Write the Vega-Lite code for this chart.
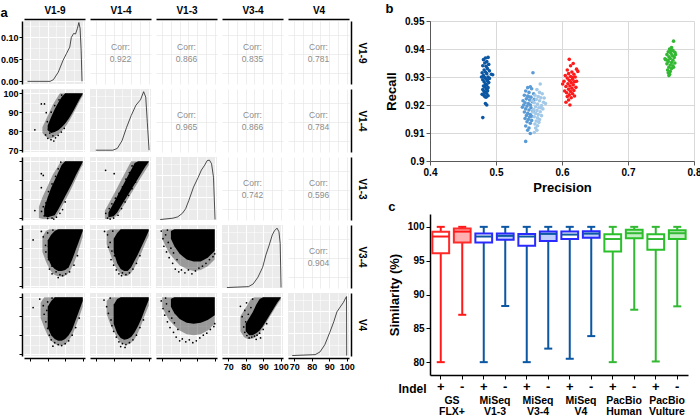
{
"$schema":"https://vega.github.io/schema/vega-lite/v6.json",
"background":"#ffffff",
"padding":{"left":0,"top":3,"right":0,"bottom":0},
"config":{"font":"Liberation Sans","view":{"stroke":null},"axis":{"labelFont":"Liberation Sans","titleFont":"Liberation Sans"},"title":{"font":"Liberation Sans","color":"#000000"}},
"datasets":{
"dens":[
{"v":"V1-9","x":68.5,"d":0},{"v":"V1-9","x":81.4,"d":0},{"v":"V1-9","x":83.3,"d":0.004},{"v":"V1-9","x":86.05,"d":0.021},{"v":"V1-9","x":88.8,"d":0.048},{"v":"V1-9","x":90.7,"d":0.063},{"v":"V1-9","x":92.6,"d":0.078},{"v":"V1-9","x":93.5,"d":0.1},{"v":"V1-9","x":94.8,"d":0.109},{"v":"V1-9","x":95.9,"d":0.108},{"v":"V1-9","x":97.0,"d":0.121},{"v":"V1-9","x":97.8,"d":0.134},{"v":"V1-9","x":98.5,"d":0.121},{"v":"V1-9","x":99.1,"d":0.071},{"v":"V1-9","x":99.6,"d":0},
{"v":"V1-4","x":69.8,"d":0.004},{"v":"V1-4","x":79.5,"d":0.004},{"v":"V1-4","x":82.1,"d":0.008},{"v":"V1-4","x":84.75,"d":0.025},{"v":"V1-4","x":87.4,"d":0.055},{"v":"V1-4","x":90.0,"d":0.081},{"v":"V1-4","x":92.7,"d":0.104},{"v":"V1-4","x":95.3,"d":0.116},{"v":"V1-4","x":97.1,"d":0.134},{"v":"V1-4","x":98.3,"d":0.122},{"v":"V1-4","x":99.2,"d":0.066},{"v":"V1-4","x":100.2,"d":0.004},
{"v":"V1-3","x":68.9,"d":0.001},{"v":"V1-3","x":76.1,"d":0.004},{"v":"V1-3","x":78.9,"d":0.007},{"v":"V1-3","x":81.6,"d":0.015},{"v":"V1-3","x":83.4,"d":0.025},{"v":"V1-3","x":85.2,"d":0.043},{"v":"V1-3","x":87.9,"d":0.073},{"v":"V1-3","x":90.6,"d":0.095},{"v":"V1-3","x":92.4,"d":0.111},{"v":"V1-3","x":94.3,"d":0.122},{"v":"V1-3","x":95.7,"d":0.132},{"v":"V1-3","x":97.0,"d":0.133},{"v":"V1-3","x":98.2,"d":0.125},{"v":"V1-3","x":99.3,"d":0.095},{"v":"V1-3","x":100.2,"d":0.001},
{"v":"V3-4","x":69.3,"d":0.001},{"v":"V3-4","x":81.6,"d":0.003},{"v":"V3-4","x":84.3,"d":0.009},{"v":"V3-4","x":87.0,"d":0.024},{"v":"V3-4","x":89.7,"d":0.046},{"v":"V3-4","x":91.5,"d":0.073},{"v":"V3-4","x":93.4,"d":0.095},{"v":"V3-4","x":95.2,"d":0.118},{"v":"V3-4","x":96.4,"d":0.127},{"v":"V3-4","x":97.9,"d":0.133},{"v":"V3-4","x":99.0,"d":0.125},{"v":"V3-4","x":99.7,"d":0.099},{"v":"V3-4","x":100.2,"d":0.001},
{"v":"V4","x":68.9,"d":0.001},{"v":"V4","x":82.0,"d":0.003},{"v":"V4","x":84.75,"d":0.009},{"v":"V4","x":87.5,"d":0.025},{"v":"V4","x":90.3,"d":0.052},{"v":"V4","x":92.6,"d":0.076},{"v":"V4","x":94.4,"d":0.098},{"v":"V4","x":96.3,"d":0.109},{"v":"V4","x":98.1,"d":0.119},{"v":"V4","x":99.4,"d":0.129},{"v":"V4","x":99.9,"d":0.132},{"v":"V4","x":100.0,"d":0.001}
],
"corr":[
{"r":"V1-9","c":"V1-4","corr":0.922},{"r":"V1-9","c":"V1-3","corr":0.866},{"r":"V1-9","c":"V3-4","corr":0.835},{"r":"V1-9","c":"V4","corr":0.781},
{"r":"V1-4","c":"V1-3","corr":0.965},{"r":"V1-4","c":"V3-4","corr":0.866},{"r":"V1-4","c":"V4","corr":0.784},
{"r":"V1-3","c":"V3-4","corr":0.742},{"r":"V1-3","c":"V4","corr":0.596},
{"r":"V3-4","c":"V4","corr":0.904}
],
"halo":[
{"r":"V1-4","c":"V1-9","x":77,"y":79,"y2":82},{"r":"V1-4","c":"V1-9","x":79,"y":77,"y2":86},{"r":"V1-4","c":"V1-9","x":81,"y":76,"y2":90},{"r":"V1-4","c":"V1-9","x":83,"y":76.5,"y2":94},{"r":"V1-4","c":"V1-9","x":85,"y":77.5,"y2":97},{"r":"V1-4","c":"V1-9","x":87,"y":79,"y2":100},{"r":"V1-4","c":"V1-9","x":89,"y":81,"y2":100},{"r":"V1-4","c":"V1-9","x":91,"y":83.5,"y2":100},{"r":"V1-4","c":"V1-9","x":93,"y":86.5,"y2":100},{"r":"V1-4","c":"V1-9","x":95,"y":90,"y2":100},{"r":"V1-4","c":"V1-9","x":97,"y":93.5,"y2":100},{"r":"V1-4","c":"V1-9","x":99,"y":97,"y2":100},{"r":"V1-4","c":"V1-9","x":100,"y":98.5,"y2":100},
{"r":"V1-3","c":"V1-9","x":75,"y":70,"y2":76},{"r":"V1-3","c":"V1-9","x":77,"y":69.5,"y2":81},{"r":"V1-3","c":"V1-9","x":79,"y":69.5,"y2":85},{"r":"V1-3","c":"V1-9","x":81,"y":69.5,"y2":89},{"r":"V1-3","c":"V1-9","x":83,"y":69.5,"y2":93},{"r":"V1-3","c":"V1-9","x":85,"y":71,"y2":96},{"r":"V1-3","c":"V1-9","x":87,"y":74,"y2":99},{"r":"V1-3","c":"V1-9","x":89,"y":77.5,"y2":100},{"r":"V1-3","c":"V1-9","x":91,"y":81,"y2":100},{"r":"V1-3","c":"V1-9","x":93,"y":84.5,"y2":100},{"r":"V1-3","c":"V1-9","x":95,"y":88.5,"y2":100},{"r":"V1-3","c":"V1-9","x":97,"y":92.5,"y2":100},{"r":"V1-3","c":"V1-9","x":99,"y":96.5,"y2":100},{"r":"V1-3","c":"V1-9","x":100,"y":98,"y2":100},
{"r":"V1-3","c":"V1-4","x":75,"y":69.5,"y2":74},{"r":"V1-3","c":"V1-4","x":78,"y":69.5,"y2":79},{"r":"V1-3","c":"V1-4","x":80,"y":70,"y2":82.5},{"r":"V1-3","c":"V1-4","x":82,"y":71.5,"y2":86},{"r":"V1-3","c":"V1-4","x":84,"y":74,"y2":89.5},{"r":"V1-3","c":"V1-4","x":86,"y":77,"y2":93},{"r":"V1-3","c":"V1-4","x":88,"y":80,"y2":96.5},{"r":"V1-3","c":"V1-4","x":90,"y":83,"y2":100},{"r":"V1-3","c":"V1-4","x":92,"y":86,"y2":100},{"r":"V1-3","c":"V1-4","x":94,"y":89,"y2":100},{"r":"V1-3","c":"V1-4","x":96,"y":92,"y2":100},{"r":"V1-3","c":"V1-4","x":98,"y":95,"y2":100},{"r":"V1-3","c":"V1-4","x":100,"y":98,"y2":100},
{"r":"V3-4","c":"V1-9","x":77,"y":88,"y2":96},{"r":"V3-4","c":"V1-9","x":79,"y":83,"y2":99},{"r":"V3-4","c":"V1-9","x":81,"y":79,"y2":100},{"r":"V3-4","c":"V1-9","x":83,"y":76.5,"y2":100},{"r":"V3-4","c":"V1-9","x":85,"y":75.5,"y2":100},{"r":"V3-4","c":"V1-9","x":87,"y":75,"y2":100},{"r":"V3-4","c":"V1-9","x":89,"y":75,"y2":100},{"r":"V3-4","c":"V1-9","x":91,"y":76,"y2":100},{"r":"V3-4","c":"V1-9","x":93,"y":78.5,"y2":100},{"r":"V3-4","c":"V1-9","x":95,"y":82,"y2":100},{"r":"V3-4","c":"V1-9","x":97,"y":87,"y2":100},{"r":"V3-4","c":"V1-9","x":99,"y":93,"y2":100},{"r":"V3-4","c":"V1-9","x":100,"y":96,"y2":100},
{"r":"V3-4","c":"V1-4","x":76,"y":92,"y2":99},{"r":"V3-4","c":"V1-4","x":78,"y":87,"y2":100},{"r":"V3-4","c":"V1-4","x":80,"y":82,"y2":100},{"r":"V3-4","c":"V1-4","x":82,"y":78.5,"y2":100},{"r":"V3-4","c":"V1-4","x":84,"y":76.5,"y2":100},{"r":"V3-4","c":"V1-4","x":86,"y":75.5,"y2":100},{"r":"V3-4","c":"V1-4","x":88,"y":75.5,"y2":100},{"r":"V3-4","c":"V1-4","x":90,"y":77,"y2":100},{"r":"V3-4","c":"V1-4","x":92,"y":80,"y2":100},{"r":"V3-4","c":"V1-4","x":94,"y":84,"y2":100},{"r":"V3-4","c":"V1-4","x":96,"y":88,"y2":100},{"r":"V3-4","c":"V1-4","x":98,"y":92.5,"y2":100},{"r":"V3-4","c":"V1-4","x":100,"y":96.5,"y2":100},
{"r":"V3-4","c":"V1-3","x":70,"y":95,"y2":100},{"r":"V3-4","c":"V1-3","x":72,"y":91,"y2":100},{"r":"V3-4","c":"V1-3","x":74,"y":87.5,"y2":100},{"r":"V3-4","c":"V1-3","x":77,"y":84,"y2":100},{"r":"V3-4","c":"V1-3","x":80,"y":81,"y2":100},{"r":"V3-4","c":"V1-3","x":84,"y":79,"y2":100},{"r":"V3-4","c":"V1-3","x":88,"y":78,"y2":100},{"r":"V3-4","c":"V1-3","x":92,"y":78.5,"y2":100},{"r":"V3-4","c":"V1-3","x":96,"y":80.5,"y2":100},{"r":"V3-4","c":"V1-3","x":100,"y":84,"y2":100},
{"r":"V4","c":"V1-9","x":76,"y":89,"y2":97},{"r":"V4","c":"V1-9","x":78,"y":84,"y2":100},{"r":"V4","c":"V1-9","x":80,"y":80,"y2":100},{"r":"V4","c":"V1-9","x":82,"y":77,"y2":100},{"r":"V4","c":"V1-9","x":84,"y":75.5,"y2":100},{"r":"V4","c":"V1-9","x":86,"y":74.5,"y2":100},{"r":"V4","c":"V1-9","x":88,"y":74.5,"y2":100},{"r":"V4","c":"V1-9","x":90,"y":75,"y2":100},{"r":"V4","c":"V1-9","x":92,"y":77,"y2":100},{"r":"V4","c":"V1-9","x":94,"y":80,"y2":100},{"r":"V4","c":"V1-9","x":96,"y":84.5,"y2":100},{"r":"V4","c":"V1-9","x":98,"y":89.5,"y2":100},{"r":"V4","c":"V1-9","x":100,"y":95,"y2":100},
{"r":"V4","c":"V1-4","x":76,"y":91,"y2":98},{"r":"V4","c":"V1-4","x":78,"y":86,"y2":100},{"r":"V4","c":"V1-4","x":80,"y":82,"y2":100},{"r":"V4","c":"V1-4","x":82,"y":78.5,"y2":100},{"r":"V4","c":"V1-4","x":84,"y":76,"y2":100},{"r":"V4","c":"V1-4","x":86,"y":75,"y2":100},{"r":"V4","c":"V1-4","x":88,"y":75,"y2":100},{"r":"V4","c":"V1-4","x":90,"y":76,"y2":100},{"r":"V4","c":"V1-4","x":92,"y":78,"y2":100},{"r":"V4","c":"V1-4","x":94,"y":81.5,"y2":100},{"r":"V4","c":"V1-4","x":96,"y":86,"y2":100},{"r":"V4","c":"V1-4","x":98,"y":91,"y2":100},{"r":"V4","c":"V1-4","x":100,"y":95.5,"y2":100},
{"r":"V4","c":"V1-3","x":70,"y":95,"y2":100},{"r":"V4","c":"V1-3","x":72,"y":91,"y2":100},{"r":"V4","c":"V1-3","x":74,"y":88,"y2":100},{"r":"V4","c":"V1-3","x":77,"y":85,"y2":100},{"r":"V4","c":"V1-3","x":80,"y":82.5,"y2":100},{"r":"V4","c":"V1-3","x":84,"y":80.5,"y2":100},{"r":"V4","c":"V1-3","x":88,"y":80,"y2":100},{"r":"V4","c":"V1-3","x":92,"y":80.5,"y2":100},{"r":"V4","c":"V1-3","x":96,"y":82.5,"y2":100},{"r":"V4","c":"V1-3","x":100,"y":86,"y2":100},
{"r":"V4","c":"V3-4","x":77,"y":82,"y2":90},{"r":"V4","c":"V3-4","x":79,"y":79,"y2":93},{"r":"V4","c":"V3-4","x":81,"y":78,"y2":96},{"r":"V4","c":"V3-4","x":83,"y":78,"y2":99},{"r":"V4","c":"V3-4","x":85,"y":78.5,"y2":100},{"r":"V4","c":"V3-4","x":87,"y":80,"y2":100},{"r":"V4","c":"V3-4","x":89,"y":82.5,"y2":100},{"r":"V4","c":"V3-4","x":91,"y":85.5,"y2":100},{"r":"V4","c":"V3-4","x":93,"y":88.5,"y2":100},{"r":"V4","c":"V3-4","x":95,"y":91.5,"y2":100},{"r":"V4","c":"V3-4","x":97,"y":94.5,"y2":100},{"r":"V4","c":"V3-4","x":99,"y":97.5,"y2":100},{"r":"V4","c":"V3-4","x":100,"y":98.5,"y2":100}
],
"core":[
{"r":"V1-4","c":"V1-9","x":80,"y":80.5,"y2":83},{"r":"V1-4","c":"V1-9","x":82,"y":79,"y2":87.5},{"r":"V1-4","c":"V1-9","x":84,"y":79.5,"y2":91.5},{"r":"V1-4","c":"V1-9","x":86,"y":80.5,"y2":95},{"r":"V1-4","c":"V1-9","x":88,"y":82,"y2":98},{"r":"V1-4","c":"V1-9","x":90,"y":84,"y2":100},{"r":"V1-4","c":"V1-9","x":92,"y":86.5,"y2":100},{"r":"V1-4","c":"V1-9","x":94,"y":89.5,"y2":100},{"r":"V1-4","c":"V1-9","x":96,"y":93,"y2":100},{"r":"V1-4","c":"V1-9","x":98,"y":96.5,"y2":100},{"r":"V1-4","c":"V1-9","x":100,"y":99.6,"y2":100},
{"r":"V1-3","c":"V1-9","x":78,"y":71,"y2":75},{"r":"V1-3","c":"V1-9","x":80,"y":70.5,"y2":81},{"r":"V1-3","c":"V1-9","x":82,"y":71,"y2":86},{"r":"V1-3","c":"V1-9","x":84,"y":71.5,"y2":90},{"r":"V1-3","c":"V1-9","x":86,"y":74.5,"y2":94},{"r":"V1-3","c":"V1-9","x":88,"y":78,"y2":98},{"r":"V1-3","c":"V1-9","x":90,"y":81.5,"y2":100},{"r":"V1-3","c":"V1-9","x":92,"y":85,"y2":100},{"r":"V1-3","c":"V1-9","x":94,"y":88.5,"y2":100},{"r":"V1-3","c":"V1-9","x":96,"y":92.5,"y2":100},{"r":"V1-3","c":"V1-9","x":98,"y":96,"y2":100},{"r":"V1-3","c":"V1-9","x":100,"y":99.6,"y2":100},
{"r":"V1-3","c":"V1-4","x":77,"y":70.5,"y2":73},{"r":"V1-3","c":"V1-4","x":80,"y":71,"y2":78},{"r":"V1-3","c":"V1-4","x":82,"y":73,"y2":81.5},{"r":"V1-3","c":"V1-4","x":84,"y":76,"y2":85},{"r":"V1-3","c":"V1-4","x":86,"y":79,"y2":88.5},{"r":"V1-3","c":"V1-4","x":88,"y":82,"y2":92},{"r":"V1-3","c":"V1-4","x":90,"y":85,"y2":95.5},{"r":"V1-3","c":"V1-4","x":92,"y":88,"y2":99},{"r":"V1-3","c":"V1-4","x":94,"y":91,"y2":100},{"r":"V1-3","c":"V1-4","x":96,"y":94,"y2":100},{"r":"V1-3","c":"V1-4","x":98,"y":97,"y2":100},{"r":"V1-3","c":"V1-4","x":100,"y":99.6,"y2":100},
{"r":"V3-4","c":"V1-9","x":80,"y":85,"y2":94},{"r":"V3-4","c":"V1-9","x":82,"y":81,"y2":97},{"r":"V3-4","c":"V1-9","x":84,"y":79,"y2":99},{"r":"V3-4","c":"V1-9","x":86,"y":78,"y2":100},{"r":"V3-4","c":"V1-9","x":88,"y":78,"y2":100},{"r":"V3-4","c":"V1-9","x":90,"y":78.5,"y2":100},{"r":"V3-4","c":"V1-9","x":92,"y":80,"y2":100},{"r":"V3-4","c":"V1-9","x":94,"y":84,"y2":100},{"r":"V3-4","c":"V1-9","x":96,"y":89,"y2":100},{"r":"V3-4","c":"V1-9","x":98,"y":94,"y2":100},{"r":"V3-4","c":"V1-9","x":100,"y":99,"y2":100},
{"r":"V3-4","c":"V1-4","x":80,"y":88,"y2":95},{"r":"V3-4","c":"V1-4","x":82,"y":82,"y2":98},{"r":"V3-4","c":"V1-4","x":84,"y":79,"y2":100},{"r":"V3-4","c":"V1-4","x":86,"y":78,"y2":100},{"r":"V3-4","c":"V1-4","x":88,"y":78,"y2":100},{"r":"V3-4","c":"V1-4","x":90,"y":80,"y2":100},{"r":"V3-4","c":"V1-4","x":92,"y":83.5,"y2":100},{"r":"V3-4","c":"V1-4","x":94,"y":87,"y2":100},{"r":"V3-4","c":"V1-4","x":96,"y":91,"y2":100},{"r":"V3-4","c":"V1-4","x":98,"y":95,"y2":100},{"r":"V3-4","c":"V1-4","x":100,"y":99,"y2":100},
{"r":"V3-4","c":"V1-3","x":75,"y":95,"y2":99},{"r":"V3-4","c":"V1-3","x":77,"y":91,"y2":100},{"r":"V3-4","c":"V1-3","x":80,"y":87,"y2":100},{"r":"V3-4","c":"V1-3","x":84,"y":84,"y2":100},{"r":"V3-4","c":"V1-3","x":88,"y":83,"y2":100},{"r":"V3-4","c":"V1-3","x":92,"y":83,"y2":100},{"r":"V3-4","c":"V1-3","x":96,"y":85,"y2":100},{"r":"V3-4","c":"V1-3","x":100,"y":88.5,"y2":100},
{"r":"V4","c":"V1-9","x":80,"y":84,"y2":95},{"r":"V4","c":"V1-9","x":82,"y":80,"y2":98},{"r":"V4","c":"V1-9","x":84,"y":78,"y2":100},{"r":"V4","c":"V1-9","x":86,"y":77,"y2":100},{"r":"V4","c":"V1-9","x":88,"y":77,"y2":100},{"r":"V4","c":"V1-9","x":90,"y":78,"y2":100},{"r":"V4","c":"V1-9","x":92,"y":80,"y2":100},{"r":"V4","c":"V1-9","x":94,"y":83,"y2":100},{"r":"V4","c":"V1-9","x":96,"y":88,"y2":100},{"r":"V4","c":"V1-9","x":98,"y":93,"y2":100},{"r":"V4","c":"V1-9","x":100,"y":98,"y2":100},
{"r":"V4","c":"V1-4","x":80,"y":86,"y2":96},{"r":"V4","c":"V1-4","x":82,"y":81,"y2":99},{"r":"V4","c":"V1-4","x":84,"y":78.5,"y2":100},{"r":"V4","c":"V1-4","x":86,"y":77.5,"y2":100},{"r":"V4","c":"V1-4","x":88,"y":78,"y2":100},{"r":"V4","c":"V1-4","x":90,"y":79,"y2":100},{"r":"V4","c":"V1-4","x":92,"y":81.5,"y2":100},{"r":"V4","c":"V1-4","x":94,"y":85,"y2":100},{"r":"V4","c":"V1-4","x":96,"y":89,"y2":100},{"r":"V4","c":"V1-4","x":98,"y":94,"y2":100},{"r":"V4","c":"V1-4","x":100,"y":98.5,"y2":100},
{"r":"V4","c":"V1-3","x":75,"y":95,"y2":99},{"r":"V4","c":"V1-3","x":77,"y":91.5,"y2":100},{"r":"V4","c":"V1-3","x":80,"y":88.5,"y2":100},{"r":"V4","c":"V1-3","x":84,"y":86.5,"y2":100},{"r":"V4","c":"V1-3","x":88,"y":86,"y2":100},{"r":"V4","c":"V1-3","x":92,"y":86.5,"y2":100},{"r":"V4","c":"V1-3","x":96,"y":88,"y2":100},{"r":"V4","c":"V1-3","x":100,"y":90.5,"y2":100},
{"r":"V4","c":"V3-4","x":80,"y":82,"y2":86},{"r":"V4","c":"V3-4","x":82,"y":80,"y2":89},{"r":"V4","c":"V3-4","x":84,"y":80,"y2":92},{"r":"V4","c":"V3-4","x":86,"y":81,"y2":96},{"r":"V4","c":"V3-4","x":88,"y":82.5,"y2":99},{"r":"V4","c":"V3-4","x":90,"y":85,"y2":100},{"r":"V4","c":"V3-4","x":92,"y":88,"y2":100},{"r":"V4","c":"V3-4","x":94,"y":91,"y2":100},{"r":"V4","c":"V3-4","x":96,"y":94,"y2":100},{"r":"V4","c":"V3-4","x":98,"y":97,"y2":100},{"r":"V4","c":"V3-4","x":100,"y":99.6,"y2":100}
],
"pts":[
{"r":"V1-4","c":"V1-9","x":76.4,"y":94.3},{"r":"V1-4","c":"V1-9","x":78.2,"y":94.3},{"r":"V1-4","c":"V1-9","x":79.2,"y":89.7},{"r":"V1-4","c":"V1-9","x":72.7,"y":80.7},{"r":"V1-4","c":"V1-9","x":78.8,"y":78},{"r":"V1-4","c":"V1-9","x":80.1,"y":76.2},{"r":"V1-4","c":"V1-9","x":81.9,"y":75.5},{"r":"V1-4","c":"V1-9","x":83,"y":77.5},{"r":"V1-4","c":"V1-9","x":84.5,"y":76.5},{"r":"V1-4","c":"V1-9","x":86,"y":77.8},{"r":"V1-4","c":"V1-9","x":80.5,"y":81},{"r":"V1-4","c":"V1-9","x":79.8,"y":85},{"r":"V1-4","c":"V1-9","x":82,"y":90},{"r":"V1-4","c":"V1-9","x":84,"y":93.5},{"r":"V1-4","c":"V1-9","x":86.5,"y":96.5},{"r":"V1-4","c":"V1-9","x":88,"y":99},{"r":"V1-4","c":"V1-9","x":81.2,"y":79},{"r":"V1-4","c":"V1-9","x":87.8,"y":79.5},{"r":"V1-4","c":"V1-9","x":89.5,"y":81.5},{"r":"V1-4","c":"V1-9","x":83.5,"y":74.8},
{"r":"V1-3","c":"V1-9","x":76.4,"y":93.4},{"r":"V1-3","c":"V1-9","x":77.5,"y":92.5},{"r":"V1-3","c":"V1-9","x":76.4,"y":86},{"r":"V1-3","c":"V1-9","x":72.7,"y":74},{"r":"V1-3","c":"V1-9","x":78,"y":71.2},{"r":"V1-3","c":"V1-9","x":76.5,"y":73.5},{"r":"V1-3","c":"V1-9","x":80,"y":69.8},{"r":"V1-3","c":"V1-9","x":82.5,"y":70},{"r":"V1-3","c":"V1-9","x":85,"y":70.5},{"r":"V1-3","c":"V1-9","x":87,"y":72.5},{"r":"V1-3","c":"V1-9","x":79,"y":78},{"r":"V1-3","c":"V1-9","x":80.5,"y":84},{"r":"V1-3","c":"V1-9","x":82.5,"y":88},{"r":"V1-3","c":"V1-9","x":84.5,"y":92},{"r":"V1-3","c":"V1-9","x":86,"y":96},{"r":"V1-3","c":"V1-9","x":87.5,"y":99.5},{"r":"V1-3","c":"V1-9","x":88.5,"y":74.5},{"r":"V1-3","c":"V1-9","x":90,"y":78.5},{"r":"V1-3","c":"V1-9","x":77.5,"y":76},{"r":"V1-3","c":"V1-9","x":83.5,"y":69.5},
{"r":"V1-3","c":"V1-4","x":75.4,"y":95.2},{"r":"V1-3","c":"V1-4","x":80.3,"y":93.4},{"r":"V1-3","c":"V1-4","x":76.5,"y":70},{"r":"V1-3","c":"V1-4","x":78,"y":69.5},{"r":"V1-3","c":"V1-4","x":80,"y":70},{"r":"V1-3","c":"V1-4","x":82.5,"y":71.5},{"r":"V1-3","c":"V1-4","x":75.5,"y":72.5},{"r":"V1-3","c":"V1-4","x":77.5,"y":75},{"r":"V1-3","c":"V1-4","x":79,"y":77.5},{"r":"V1-3","c":"V1-4","x":81,"y":80.5},{"r":"V1-3","c":"V1-4","x":83,"y":83},{"r":"V1-3","c":"V1-4","x":85,"y":86.5},{"r":"V1-3","c":"V1-4","x":87,"y":90.5},{"r":"V1-3","c":"V1-4","x":89,"y":94},{"r":"V1-3","c":"V1-4","x":90.5,"y":97.5},{"r":"V1-3","c":"V1-4","x":84.5,"y":75},{"r":"V1-3","c":"V1-4","x":86.5,"y":78.5},{"r":"V1-3","c":"V1-4","x":88.5,"y":82},{"r":"V1-3","c":"V1-4","x":90.5,"y":85.5},{"r":"V1-3","c":"V1-4","x":92.5,"y":89},
{"r":"V3-4","c":"V1-9","x":71.7,"y":94.3},{"r":"V3-4","c":"V1-9","x":76.4,"y":98.8},{"r":"V3-4","c":"V1-9","x":78.8,"y":91.5},{"r":"V3-4","c":"V1-9","x":77.5,"y":96},{"r":"V3-4","c":"V1-9","x":79,"y":88},{"r":"V3-4","c":"V1-9","x":80.5,"y":84},{"r":"V3-4","c":"V1-9","x":81,"y":79},{"r":"V3-4","c":"V1-9","x":82.5,"y":80.5},{"r":"V3-4","c":"V1-9","x":84.8,"y":77.5},{"r":"V3-4","c":"V1-9","x":87,"y":76},{"r":"V3-4","c":"V1-9","x":90.3,"y":76.5},{"r":"V3-4","c":"V1-9","x":92.5,"y":77.5},{"r":"V3-4","c":"V1-9","x":88.5,"y":75.5},{"r":"V3-4","c":"V1-9","x":86,"y":74.5},{"r":"V3-4","c":"V1-9","x":95,"y":81},{"r":"V3-4","c":"V1-9","x":97,"y":86},{"r":"V3-4","c":"V1-9","x":83,"y":99.5},{"r":"V3-4","c":"V1-9","x":80,"y":98},{"r":"V3-4","c":"V1-9","x":82.5,"y":76.5},{"r":"V3-4","c":"V1-9","x":80.5,"y":91},
{"r":"V3-4","c":"V1-4","x":74.8,"y":98.8},{"r":"V3-4","c":"V1-4","x":76.5,"y":97},{"r":"V3-4","c":"V1-4","x":78,"y":93},{"r":"V3-4","c":"V1-4","x":79,"y":88.5},{"r":"V3-4","c":"V1-4","x":78.5,"y":84},{"r":"V3-4","c":"V1-4","x":80,"y":81},{"r":"V3-4","c":"V1-4","x":81.5,"y":78.5},{"r":"V3-4","c":"V1-4","x":83,"y":76.5},{"r":"V3-4","c":"V1-4","x":85,"y":77},{"r":"V3-4","c":"V1-4","x":87,"y":76},{"r":"V3-4","c":"V1-4","x":89,"y":77},{"r":"V3-4","c":"V1-4","x":91,"y":79},{"r":"V3-4","c":"V1-4","x":93,"y":82},{"r":"V3-4","c":"V1-4","x":95,"y":86},{"r":"V3-4","c":"V1-4","x":79.5,"y":99},{"r":"V3-4","c":"V1-4","x":81,"y":95},{"r":"V3-4","c":"V1-4","x":82,"y":91.5},{"r":"V3-4","c":"V1-4","x":84.5,"y":75.5},{"r":"V3-4","c":"V1-4","x":77,"y":90.5},{"r":"V3-4","c":"V1-4","x":80.5,"y":86},
{"r":"V3-4","c":"V1-3","x":69.5,"y":99},{"r":"V3-4","c":"V1-3","x":70.5,"y":95},{"r":"V3-4","c":"V1-3","x":71,"y":91},{"r":"V3-4","c":"V1-3","x":72,"y":97},{"r":"V3-4","c":"V1-3","x":72.5,"y":88},{"r":"V3-4","c":"V1-3","x":73.5,"y":93},{"r":"V3-4","c":"V1-3","x":74,"y":85},{"r":"V3-4","c":"V1-3","x":75,"y":90},{"r":"V3-4","c":"V1-3","x":76,"y":82},{"r":"V3-4","c":"V1-3","x":76.5,"y":87.5},{"r":"V3-4","c":"V1-3","x":77.5,"y":79},{"r":"V3-4","c":"V1-3","x":78.5,"y":84},{"r":"V3-4","c":"V1-3","x":79.5,"y":77.5},{"r":"V3-4","c":"V1-3","x":81,"y":78.5},{"r":"V3-4","c":"V1-3","x":83,"y":77},{"r":"V3-4","c":"V1-3","x":85,"y":78.5},{"r":"V3-4","c":"V1-3","x":87,"y":76.5},{"r":"V3-4","c":"V1-3","x":89,"y":78},{"r":"V3-4","c":"V1-3","x":91,"y":79.5},{"r":"V3-4","c":"V1-3","x":93,"y":80.5},{"r":"V3-4","c":"V1-3","x":95,"y":82},{"r":"V3-4","c":"V1-3","x":97,"y":84},{"r":"V3-4","c":"V1-3","x":99,"y":85.5},{"r":"V3-4","c":"V1-3","x":100,"y":87},{"r":"V3-4","c":"V1-3","x":73,"y":99.5},{"r":"V3-4","c":"V1-3","x":75.5,"y":98.5},
{"r":"V4","c":"V1-9","x":71.7,"y":94.5},{"r":"V4","c":"V1-9","x":75.5,"y":99},{"r":"V4","c":"V1-9","x":77.5,"y":95.5},{"r":"V4","c":"V1-9","x":78,"y":91},{"r":"V4","c":"V1-9","x":79,"y":87},{"r":"V4","c":"V1-9","x":80,"y":83.5},{"r":"V4","c":"V1-9","x":81,"y":80},{"r":"V4","c":"V1-9","x":82,"y":77.5},{"r":"V4","c":"V1-9","x":84,"y":76},{"r":"V4","c":"V1-9","x":86,"y":75},{"r":"V4","c":"V1-9","x":88,"y":74.5},{"r":"V4","c":"V1-9","x":90,"y":75.5},{"r":"V4","c":"V1-9","x":92,"y":77},{"r":"V4","c":"V1-9","x":94,"y":80},{"r":"V4","c":"V1-9","x":96,"y":84},{"r":"V4","c":"V1-9","x":98,"y":89},{"r":"V4","c":"V1-9","x":83,"y":74.2},{"r":"V4","c":"V1-9","x":80,"y":97.5},{"r":"V4","c":"V1-9","x":82.5,"y":99.5},{"r":"V4","c":"V1-9","x":79.5,"y":93},
{"r":"V4","c":"V1-4","x":74.5,"y":98.5},{"r":"V4","c":"V1-4","x":76,"y":95},{"r":"V4","c":"V1-4","x":77,"y":91.5},{"r":"V4","c":"V1-4","x":78.5,"y":88},{"r":"V4","c":"V1-4","x":79,"y":85},{"r":"V4","c":"V1-4","x":80,"y":82},{"r":"V4","c":"V1-4","x":81.5,"y":79},{"r":"V4","c":"V1-4","x":83,"y":76.5},{"r":"V4","c":"V1-4","x":85,"y":75.5},{"r":"V4","c":"V1-4","x":87,"y":75},{"r":"V4","c":"V1-4","x":89,"y":76},{"r":"V4","c":"V1-4","x":91,"y":77.5},{"r":"V4","c":"V1-4","x":93,"y":80},{"r":"V4","c":"V1-4","x":95,"y":84},{"r":"V4","c":"V1-4","x":97,"y":88},{"r":"V4","c":"V1-4","x":78,"y":99.5},{"r":"V4","c":"V1-4","x":80.5,"y":96},{"r":"V4","c":"V1-4","x":82,"y":92.5},{"r":"V4","c":"V1-4","x":84,"y":74},{"r":"V4","c":"V1-4","x":86.5,"y":73.5},
{"r":"V4","c":"V1-3","x":69.5,"y":98},{"r":"V4","c":"V1-3","x":70.5,"y":94},{"r":"V4","c":"V1-3","x":71.5,"y":90.5},{"r":"V4","c":"V1-3","x":72.5,"y":96.5},{"r":"V4","c":"V1-3","x":73,"y":87},{"r":"V4","c":"V1-3","x":74,"y":92.5},{"r":"V4","c":"V1-3","x":74.5,"y":84},{"r":"V4","c":"V1-3","x":75.5,"y":89},{"r":"V4","c":"V1-3","x":76.5,"y":81.5},{"r":"V4","c":"V1-3","x":77,"y":86.5},{"r":"V4","c":"V1-3","x":78,"y":79},{"r":"V4","c":"V1-3","x":79,"y":83},{"r":"V4","c":"V1-3","x":80,"y":77},{"r":"V4","c":"V1-3","x":81.5,"y":78},{"r":"V4","c":"V1-3","x":83.5,"y":76.5},{"r":"V4","c":"V1-3","x":85.5,"y":77.5},{"r":"V4","c":"V1-3","x":87.5,"y":76},{"r":"V4","c":"V1-3","x":89.5,"y":77},{"r":"V4","c":"V1-3","x":91.5,"y":78.5},{"r":"V4","c":"V1-3","x":93.5,"y":80},{"r":"V4","c":"V1-3","x":95.5,"y":81},{"r":"V4","c":"V1-3","x":97.5,"y":83},{"r":"V4","c":"V1-3","x":99.5,"y":84.5},{"r":"V4","c":"V1-3","x":100,"y":86},{"r":"V4","c":"V1-3","x":72,"y":99.5},{"r":"V4","c":"V1-3","x":76,"y":99},
{"r":"V4","c":"V3-4","x":77,"y":95.2},{"r":"V4","c":"V3-4","x":78,"y":89.7},{"r":"V4","c":"V3-4","x":78.9,"y":84.3},{"r":"V4","c":"V3-4","x":79.5,"y":81.5},{"r":"V4","c":"V3-4","x":80.7,"y":79.8},{"r":"V4","c":"V3-4","x":82,"y":78.5},{"r":"V4","c":"V3-4","x":83.5,"y":79},{"r":"V4","c":"V3-4","x":85,"y":79.5},{"r":"V4","c":"V3-4","x":86.5,"y":80},{"r":"V4","c":"V3-4","x":88,"y":81},{"r":"V4","c":"V3-4","x":90,"y":83},{"r":"V4","c":"V3-4","x":92,"y":86},{"r":"V4","c":"V3-4","x":79.5,"y":93},{"r":"V4","c":"V3-4","x":80.5,"y":97},{"r":"V4","c":"V3-4","x":81.5,"y":91},{"r":"V4","c":"V3-4","x":83,"y":94.5},{"r":"V4","c":"V3-4","x":84,"y":99},{"r":"V4","c":"V3-4","x":80,"y":87},{"r":"V4","c":"V3-4","x":88.5,"y":78.5},{"r":"V4","c":"V3-4","x":86,"y":77.8}
],
"pr":[
{"platform":"MiSeq V1-3","precision":0.481,"recall":0.9362},{"platform":"MiSeq V1-3","precision":0.484,"recall":0.9368},{"platform":"MiSeq V1-3","precision":0.488,"recall":0.937},{"platform":"MiSeq V1-3","precision":0.486,"recall":0.9355},{"platform":"MiSeq V1-3","precision":0.483,"recall":0.935},{"platform":"MiSeq V1-3","precision":0.489,"recall":0.9345},{"platform":"MiSeq V1-3","precision":0.48,"recall":0.934},{"platform":"MiSeq V1-3","precision":0.485,"recall":0.9338},{"platform":"MiSeq V1-3","precision":0.487,"recall":0.933},{"platform":"MiSeq V1-3","precision":0.482,"recall":0.9325},{"platform":"MiSeq V1-3","precision":0.49,"recall":0.9322},{"platform":"MiSeq V1-3","precision":0.484,"recall":0.9318},{"platform":"MiSeq V1-3","precision":0.479,"recall":0.9315},{"platform":"MiSeq V1-3","precision":0.486,"recall":0.9312},{"platform":"MiSeq V1-3","precision":0.493,"recall":0.931},{"platform":"MiSeq V1-3","precision":0.495,"recall":0.9308},{"platform":"MiSeq V1-3","precision":0.481,"recall":0.9305},{"platform":"MiSeq V1-3","precision":0.488,"recall":0.93},{"platform":"MiSeq V1-3","precision":0.483,"recall":0.9298},{"platform":"MiSeq V1-3","precision":0.485,"recall":0.9293},{"platform":"MiSeq V1-3","precision":0.48,"recall":0.929},{"platform":"MiSeq V1-3","precision":0.487,"recall":0.9287},{"platform":"MiSeq V1-3","precision":0.482,"recall":0.9283},{"platform":"MiSeq V1-3","precision":0.489,"recall":0.928},{"platform":"MiSeq V1-3","precision":0.484,"recall":0.9276},{"platform":"MiSeq V1-3","precision":0.486,"recall":0.9272},{"platform":"MiSeq V1-3","precision":0.481,"recall":0.9268},{"platform":"MiSeq V1-3","precision":0.483,"recall":0.9265},{"platform":"MiSeq V1-3","precision":0.488,"recall":0.9262},{"platform":"MiSeq V1-3","precision":0.485,"recall":0.9258},{"platform":"MiSeq V1-3","precision":0.48,"recall":0.9255},{"platform":"MiSeq V1-3","precision":0.487,"recall":0.9252},{"platform":"MiSeq V1-3","precision":0.482,"recall":0.9248},{"platform":"MiSeq V1-3","precision":0.484,"recall":0.9245},{"platform":"MiSeq V1-3","precision":0.486,"recall":0.924},{"platform":"MiSeq V1-3","precision":0.481,"recall":0.9236},{"platform":"MiSeq V1-3","precision":0.488,"recall":0.9233},{"platform":"MiSeq V1-3","precision":0.483,"recall":0.923},{"platform":"MiSeq V1-3","precision":0.485,"recall":0.9228},{"platform":"MiSeq V1-3","precision":0.479,"recall":0.9238},{"platform":"MiSeq V1-3","precision":0.484,"recall":0.9205},{"platform":"MiSeq V1-3","precision":0.486,"recall":0.92},{"platform":"MiSeq V1-3","precision":0.48,"recall":0.9155},{"platform":"MiSeq V1-3","precision":0.49,"recall":0.9295},{"platform":"MiSeq V1-3","precision":0.478,"recall":0.93},{"platform":"MiSeq V1-3","precision":0.487,"recall":0.925},{"platform":"MiSeq V1-3","precision":0.483,"recall":0.9268},
{"platform":"MiSeq V3-4","precision":0.556,"recall":0.9315},{"platform":"MiSeq V3-4","precision":0.552,"recall":0.9265},{"platform":"MiSeq V3-4","precision":0.548,"recall":0.9262},{"platform":"MiSeq V3-4","precision":0.554,"recall":0.9258},{"platform":"MiSeq V3-4","precision":0.545,"recall":0.925},{"platform":"MiSeq V3-4","precision":0.55,"recall":0.9245},{"platform":"MiSeq V3-4","precision":0.557,"recall":0.924},{"platform":"MiSeq V3-4","precision":0.543,"recall":0.9235},{"platform":"MiSeq V3-4","precision":0.548,"recall":0.9232},{"platform":"MiSeq V3-4","precision":0.553,"recall":0.9228},{"platform":"MiSeq V3-4","precision":0.546,"recall":0.9222},{"platform":"MiSeq V3-4","precision":0.551,"recall":0.9218},{"platform":"MiSeq V3-4","precision":0.541,"recall":0.9215},{"platform":"MiSeq V3-4","precision":0.555,"recall":0.9212},{"platform":"MiSeq V3-4","precision":0.544,"recall":0.9208},{"platform":"MiSeq V3-4","precision":0.549,"recall":0.9205},{"platform":"MiSeq V3-4","precision":0.552,"recall":0.92},{"platform":"MiSeq V3-4","precision":0.547,"recall":0.9196},{"platform":"MiSeq V3-4","precision":0.54,"recall":0.9192},{"platform":"MiSeq V3-4","precision":0.553,"recall":0.919},{"platform":"MiSeq V3-4","precision":0.545,"recall":0.9186},{"platform":"MiSeq V3-4","precision":0.55,"recall":0.9182},{"platform":"MiSeq V3-4","precision":0.556,"recall":0.9178},{"platform":"MiSeq V3-4","precision":0.543,"recall":0.9175},{"platform":"MiSeq V3-4","precision":0.548,"recall":0.917},{"platform":"MiSeq V3-4","precision":0.552,"recall":0.9166},{"platform":"MiSeq V3-4","precision":0.546,"recall":0.9162},{"platform":"MiSeq V3-4","precision":0.551,"recall":0.9157},{"platform":"MiSeq V3-4","precision":0.544,"recall":0.9152},{"platform":"MiSeq V3-4","precision":0.549,"recall":0.9148},{"platform":"MiSeq V3-4","precision":0.554,"recall":0.9145},{"platform":"MiSeq V3-4","precision":0.547,"recall":0.914},{"platform":"MiSeq V3-4","precision":0.552,"recall":0.9135},{"platform":"MiSeq V3-4","precision":0.545,"recall":0.9125},{"platform":"MiSeq V3-4","precision":0.55,"recall":0.9118},{"platform":"MiSeq V3-4","precision":0.548,"recall":0.911},{"platform":"MiSeq V3-4","precision":0.552,"recall":0.9098},{"platform":"MiSeq V3-4","precision":0.545,"recall":0.907},{"platform":"MiSeq V3-4","precision":0.542,"recall":0.92},{"platform":"MiSeq V3-4","precision":0.558,"recall":0.922},{"platform":"MiSeq V3-4","precision":0.554,"recall":0.916},{"platform":"MiSeq V3-4","precision":0.549,"recall":0.923},
{"platform":"MiSeq V4","precision":0.567,"recall":0.9275},{"platform":"MiSeq V4","precision":0.562,"recall":0.9255},{"platform":"MiSeq V4","precision":0.566,"recall":0.9245},{"platform":"MiSeq V4","precision":0.57,"recall":0.924},{"platform":"MiSeq V4","precision":0.559,"recall":0.9235},{"platform":"MiSeq V4","precision":0.564,"recall":0.923},{"platform":"MiSeq V4","precision":0.568,"recall":0.9226},{"platform":"MiSeq V4","precision":0.561,"recall":0.922},{"platform":"MiSeq V4","precision":0.566,"recall":0.9215},{"platform":"MiSeq V4","precision":0.572,"recall":0.921},{"platform":"MiSeq V4","precision":0.575,"recall":0.9205},{"platform":"MiSeq V4","precision":0.558,"recall":0.9208},{"platform":"MiSeq V4","precision":0.563,"recall":0.9203},{"platform":"MiSeq V4","precision":0.569,"recall":0.9198},{"platform":"MiSeq V4","precision":0.56,"recall":0.9194},{"platform":"MiSeq V4","precision":0.565,"recall":0.919},{"platform":"MiSeq V4","precision":0.571,"recall":0.9186},{"platform":"MiSeq V4","precision":0.557,"recall":0.9184},{"platform":"MiSeq V4","precision":0.562,"recall":0.918},{"platform":"MiSeq V4","precision":0.567,"recall":0.9176},{"platform":"MiSeq V4","precision":0.56,"recall":0.917},{"platform":"MiSeq V4","precision":0.564,"recall":0.9166},{"platform":"MiSeq V4","precision":0.569,"recall":0.9162},{"platform":"MiSeq V4","precision":0.558,"recall":0.9158},{"platform":"MiSeq V4","precision":0.563,"recall":0.9154},{"platform":"MiSeq V4","precision":0.566,"recall":0.9148},{"platform":"MiSeq V4","precision":0.561,"recall":0.9143},{"platform":"MiSeq V4","precision":0.565,"recall":0.9138},{"platform":"MiSeq V4","precision":0.559,"recall":0.9132},{"platform":"MiSeq V4","precision":0.563,"recall":0.9126},{"platform":"MiSeq V4","precision":0.56,"recall":0.9118},{"platform":"MiSeq V4","precision":0.562,"recall":0.911},{"platform":"MiSeq V4","precision":0.558,"recall":0.9102},{"platform":"MiSeq V4","precision":0.556,"recall":0.9175},{"platform":"MiSeq V4","precision":0.568,"recall":0.919},{"platform":"MiSeq V4","precision":0.573,"recall":0.9225},{"platform":"MiSeq V4","precision":0.555,"recall":0.9215},
{"platform":"GS FLX+","precision":0.611,"recall":0.9363},{"platform":"GS FLX+","precision":0.617,"recall":0.9348},{"platform":"GS FLX+","precision":0.613,"recall":0.934},{"platform":"GS FLX+","precision":0.608,"recall":0.9325},{"platform":"GS FLX+","precision":0.622,"recall":0.9328},{"platform":"GS FLX+","precision":0.624,"recall":0.932},{"platform":"GS FLX+","precision":0.615,"recall":0.9318},{"platform":"GS FLX+","precision":0.61,"recall":0.9312},{"platform":"GS FLX+","precision":0.618,"recall":0.931},{"platform":"GS FLX+","precision":0.605,"recall":0.9305},{"platform":"GS FLX+","precision":0.613,"recall":0.9302},{"platform":"GS FLX+","precision":0.62,"recall":0.93},{"platform":"GS FLX+","precision":0.608,"recall":0.9296},{"platform":"GS FLX+","precision":0.616,"recall":0.9292},{"platform":"GS FLX+","precision":0.611,"recall":0.9288},{"platform":"GS FLX+","precision":0.603,"recall":0.9285},{"platform":"GS FLX+","precision":0.619,"recall":0.9283},{"platform":"GS FLX+","precision":0.614,"recall":0.928},{"platform":"GS FLX+","precision":0.609,"recall":0.9276},{"platform":"GS FLX+","precision":0.617,"recall":0.9272},{"platform":"GS FLX+","precision":0.612,"recall":0.9268},{"platform":"GS FLX+","precision":0.601,"recall":0.9275},{"platform":"GS FLX+","precision":0.606,"recall":0.9266},{"platform":"GS FLX+","precision":0.621,"recall":0.9263},{"platform":"GS FLX+","precision":0.615,"recall":0.926},{"platform":"GS FLX+","precision":0.61,"recall":0.9256},{"platform":"GS FLX+","precision":0.618,"recall":0.9252},{"platform":"GS FLX+","precision":0.613,"recall":0.9248},{"platform":"GS FLX+","precision":0.607,"recall":0.9244},{"platform":"GS FLX+","precision":0.616,"recall":0.924},{"platform":"GS FLX+","precision":0.611,"recall":0.9236},{"platform":"GS FLX+","precision":0.619,"recall":0.9232},{"platform":"GS FLX+","precision":0.608,"recall":0.923},{"platform":"GS FLX+","precision":0.614,"recall":0.9226},{"platform":"GS FLX+","precision":0.61,"recall":0.9218},{"platform":"GS FLX+","precision":0.606,"recall":0.921},{"platform":"GS FLX+","precision":0.612,"recall":0.92},{"platform":"GS FLX+","precision":0.604,"recall":0.925},{"platform":"GS FLX+","precision":0.622,"recall":0.9285},{"platform":"GS FLX+","precision":0.616,"recall":0.9298},
{"platform":"PacBio","precision":0.769,"recall":0.9428},{"platform":"PacBio","precision":0.766,"recall":0.9405},{"platform":"PacBio","precision":0.763,"recall":0.94},{"platform":"PacBio","precision":0.768,"recall":0.9395},{"platform":"PacBio","precision":0.761,"recall":0.939},{"platform":"PacBio","precision":0.771,"recall":0.9388},{"platform":"PacBio","precision":0.765,"recall":0.9385},{"platform":"PacBio","precision":0.759,"recall":0.938},{"platform":"PacBio","precision":0.767,"recall":0.9377},{"platform":"PacBio","precision":0.762,"recall":0.9372},{"platform":"PacBio","precision":0.77,"recall":0.937},{"platform":"PacBio","precision":0.764,"recall":0.9366},{"platform":"PacBio","precision":0.757,"recall":0.9362},{"platform":"PacBio","precision":0.768,"recall":0.936},{"platform":"PacBio","precision":0.761,"recall":0.9355},{"platform":"PacBio","precision":0.766,"recall":0.9352},{"platform":"PacBio","precision":0.771,"recall":0.935},{"platform":"PacBio","precision":0.759,"recall":0.9347},{"platform":"PacBio","precision":0.764,"recall":0.9343},{"platform":"PacBio","precision":0.768,"recall":0.934},{"platform":"PacBio","precision":0.762,"recall":0.9335},{"platform":"PacBio","precision":0.766,"recall":0.933},{"platform":"PacBio","precision":0.76,"recall":0.9325},{"platform":"PacBio","precision":0.764,"recall":0.932},{"platform":"PacBio","precision":0.761,"recall":0.9315},{"platform":"PacBio","precision":0.763,"recall":0.931},{"platform":"PacBio","precision":0.762,"recall":0.9305},{"platform":"PacBio","precision":0.769,"recall":0.9335},{"platform":"PacBio","precision":0.756,"recall":0.9365},{"platform":"PacBio","precision":0.772,"recall":0.938},{"platform":"PacBio","precision":0.765,"recall":0.9395},{"platform":"PacBio","precision":0.76,"recall":0.936}
],
"box":[
{"grp":"GS FLX+","indel":"+","id":"GS FLX+ +","family":"GS FLX+","shade":"none","lower":80,"q1":96.1,"median":98.57,"q3":99.26,"upper":100},
{"grp":"GS FLX+","indel":"-","id":"GS FLX+ -","family":"GS FLX+","shade":"GS FLX+","lower":87.0,"q1":97.7,"median":99.3,"q3":99.75,"upper":100},
{"grp":"MiSeq V1-3","indel":"+","id":"MiSeq V1-3 +","family":"MiSeq","shade":"none","lower":80,"q1":97.7,"median":98.57,"q3":99.0,"upper":100},
{"grp":"MiSeq V1-3","indel":"-","id":"MiSeq V1-3 -","family":"MiSeq","shade":"MiSeq","lower":88.3,"q1":98.1,"median":98.67,"q3":99.0,"upper":100},
{"grp":"MiSeq V3-4","indel":"+","id":"MiSeq V3-4 +","family":"MiSeq","shade":"none","lower":80,"q1":97.2,"median":98.57,"q3":98.96,"upper":100},
{"grp":"MiSeq V3-4","indel":"-","id":"MiSeq V3-4 -","family":"MiSeq","shade":"MiSeq","lower":82.0,"q1":97.9,"median":98.96,"q3":99.3,"upper":100},
{"grp":"MiSeq V4","indel":"+","id":"MiSeq V4 +","family":"MiSeq","shade":"none","lower":80.5,"q1":98.2,"median":98.86,"q3":99.3,"upper":100},
{"grp":"MiSeq V4","indel":"-","id":"MiSeq V4 -","family":"MiSeq","shade":"MiSeq","lower":83.85,"q1":98.4,"median":99.0,"q3":99.36,"upper":100},
{"grp":"PacBio Human","indel":"+","id":"PacBio Human +","family":"PacBio","shade":"none","lower":80,"q1":96.35,"median":98.2,"q3":98.9,"upper":100},
{"grp":"PacBio Human","indel":"-","id":"PacBio Human -","family":"PacBio","shade":"PacBio","lower":87.75,"q1":98.3,"median":99.06,"q3":99.56,"upper":100},
{"grp":"PacBio Vulture","indel":"+","id":"PacBio Vulture +","family":"PacBio","shade":"none","lower":80.1,"q1":96.6,"median":98.2,"q3":98.9,"upper":100},
{"grp":"PacBio Vulture","indel":"-","id":"PacBio Vulture -","family":"PacBio","shade":"PacBio","lower":88.25,"q1":98.2,"median":99.06,"q3":99.5,"upper":100}
]
},
"spacing":19,
"hconcat":[
{
"title":{"text":"a","anchor":"start","fontSize":13,"fontWeight":"bold","offset":0,"dy":15},
"columns":5,"spacing":5,"bounds":"flush",
"concat":[
{"width":61,"height":63,"view":{"fill":"#ebebeb"},"data":{"name":"dens"},"transform":[{"filter":"datum.v === 'V1-9'"}],"mark":{"type":"line","color":"#222222","strokeWidth":0.8},
 "encoding":{"x":{"field":"x","type":"quantitative","scale":{"domain":[66.5,101.3],"nice":false,"zero":false},"axis":{"orient":"top","values":[70,75,80,85,90,95,100],"grid":true,"gridColor":"#ffffff","gridWidth":{"condition":{"test":"datum.value % 10 === 0","value":1.1},"value":0.5},"domain":true,"domainColor":"#000000","domainWidth":1.5,"offset":2,"ticks":false,"labels":false,"title":"V1-9","titleFontSize":10,"titleFontWeight":"bold","titleColor":"#000000","titlePadding":4}},
  "y":{"field":"d","type":"quantitative","scale":{"domain":[-0.006,0.1375],"nice":false,"zero":false},"axis":{"orient":"left","values":[0,0.025,0.05,0.075,0.1,0.125],"format":".2f","grid":true,"gridColor":"#ffffff","gridWidth":{"condition":{"test":"round(datum.value*1000) % 50 === 0","value":1.1},"value":0.5},"domain":true,"domainColor":"#000000","domainWidth":1.5,"offset":2,"ticks":true,"tickColor":"#000000","tickSize":3,"tickOpacity":{"condition":{"test":"round(datum.value*1000) % 50 === 0","value":1},"value":0},"labelExpr":"round(datum.value*1000) % 50 === 0 ? datum.label : ''","labelFontSize":9,"labelFontWeight":"bold","labelColor":"#000000","labelPadding":1,"labelOverlap":false,"labelFlush":false,"labelBound":false,"title":null}}}},
{"width":61,"height":63,"view":{"fill":"#ffffff"},"data":{"name":"corr"},"transform":[{"filter":"datum.r === 'V1-9' && datum.c === 'V1-4'"}],
 "encoding":{"x":{"datum":83.9,"type":"quantitative","scale":{"domain":[66.5,101.3],"nice":false,"zero":false},"axis":{"orient":"top","values":[70,75,80,85,90,95,100],"grid":true,"gridColor":"#e6e6e6","gridWidth":0.7,"domain":true,"domainColor":"#000000","domainWidth":1.5,"offset":2,"ticks":false,"labels":false,"title":"V1-4","titleFontSize":10,"titleFontWeight":"bold","titleColor":"#000000","titlePadding":4}},
  "y":{"datum":85.6,"type":"quantitative","scale":{"domain":[69,102.2],"nice":false,"zero":false},"axis":{"values":[75,85,95],"grid":true,"gridColor":"#e6e6e6","gridWidth":0.7,"domain":false,"ticks":false,"labels":false,"title":null}}},
 "layer":[{"mark":{"type":"text","text":"Corr:","dy":-6,"fontSize":8.5,"color":"#8c8c8c"}},{"mark":{"type":"text","dy":6,"fontSize":8.5,"color":"#8c8c8c"},"encoding":{"text":{"field":"corr","type":"quantitative","format":".3f"}}}]},
{"width":61,"height":63,"view":{"fill":"#ffffff"},"data":{"name":"corr"},"transform":[{"filter":"datum.r === 'V1-9' && datum.c === 'V1-3'"}],
 "encoding":{"x":{"datum":83.9,"type":"quantitative","scale":{"domain":[66.5,101.3],"nice":false,"zero":false},"axis":{"orient":"top","values":[70,75,80,85,90,95,100],"grid":true,"gridColor":"#e6e6e6","gridWidth":0.7,"domain":true,"domainColor":"#000000","domainWidth":1.5,"offset":2,"ticks":false,"labels":false,"title":"V1-3","titleFontSize":10,"titleFontWeight":"bold","titleColor":"#000000","titlePadding":4}},
  "y":{"datum":85.6,"type":"quantitative","scale":{"domain":[69,102.2],"nice":false,"zero":false},"axis":{"values":[75,85,95],"grid":true,"gridColor":"#e6e6e6","gridWidth":0.7,"domain":false,"ticks":false,"labels":false,"title":null}}},
 "layer":[{"mark":{"type":"text","text":"Corr:","dy":-6,"fontSize":8.5,"color":"#8c8c8c"}},{"mark":{"type":"text","dy":6,"fontSize":8.5,"color":"#8c8c8c"},"encoding":{"text":{"field":"corr","type":"quantitative","format":".3f"}}}]},
{"width":61,"height":63,"view":{"fill":"#ffffff"},"data":{"name":"corr"},"transform":[{"filter":"datum.r === 'V1-9' && datum.c === 'V3-4'"}],
 "encoding":{"x":{"datum":83.9,"type":"quantitative","scale":{"domain":[66.5,101.3],"nice":false,"zero":false},"axis":{"orient":"top","values":[70,75,80,85,90,95,100],"grid":true,"gridColor":"#e6e6e6","gridWidth":0.7,"domain":true,"domainColor":"#000000","domainWidth":1.5,"offset":2,"ticks":false,"labels":false,"title":"V3-4","titleFontSize":10,"titleFontWeight":"bold","titleColor":"#000000","titlePadding":4}},
  "y":{"datum":85.6,"type":"quantitative","scale":{"domain":[69,102.2],"nice":false,"zero":false},"axis":{"values":[75,85,95],"grid":true,"gridColor":"#e6e6e6","gridWidth":0.7,"domain":false,"ticks":false,"labels":false,"title":null}}},
 "layer":[{"mark":{"type":"text","text":"Corr:","dy":-6,"fontSize":8.5,"color":"#8c8c8c"}},{"mark":{"type":"text","dy":6,"fontSize":8.5,"color":"#8c8c8c"},"encoding":{"text":{"field":"corr","type":"quantitative","format":".3f"}}}]},
{"width":61,"height":63,"view":{"fill":"#ffffff"},"data":{"name":"corr"},"transform":[{"filter":"datum.r === 'V1-9' && datum.c === 'V4'"}],
 "encoding":{"x":{"datum":83.9,"type":"quantitative","scale":{"domain":[66.5,101.3],"nice":false,"zero":false},"axis":{"orient":"top","values":[70,75,80,85,90,95,100],"grid":true,"gridColor":"#e6e6e6","gridWidth":0.7,"domain":true,"domainColor":"#000000","domainWidth":1.5,"offset":2,"ticks":false,"labels":false,"title":"V4","titleFontSize":10,"titleFontWeight":"bold","titleColor":"#000000","titlePadding":4}},
  "y":{"datum":85.6,"type":"quantitative","scale":{"domain":[69,102.2],"nice":false,"zero":false},"axis":{"orient":"right","values":[75,85,95],"grid":true,"gridColor":"#e6e6e6","gridWidth":0.7,"domain":true,"domainColor":"#000000","domainWidth":1.5,"offset":2,"ticks":false,"labels":false,"title":"V1-9","titleAngle":90,"titleFontSize":10,"titleFontWeight":"bold","titleColor":"#000000","titlePadding":5}}},
 "layer":[{"mark":{"type":"text","text":"Corr:","dy":-6,"fontSize":8.5,"color":"#8c8c8c"}},{"mark":{"type":"text","dy":6,"fontSize":8.5,"color":"#8c8c8c"},"encoding":{"text":{"field":"corr","type":"quantitative","format":".3f"}}}]},

{"width":61,"height":63,"view":{"fill":"#ebebeb"},
 "encoding":{"x":{"field":"x","type":"quantitative","scale":{"domain":[66.5,101.3],"nice":false,"zero":false},"axis":{"values":[70,75,80,85,90,95,100],"grid":true,"gridColor":"#ffffff","gridWidth":{"condition":{"test":"datum.value % 10 === 0","value":1.1},"value":0.5},"domain":false,"ticks":false,"labels":false,"title":null}},
  "y":{"field":"y","type":"quantitative","scale":{"domain":[69,102.2],"nice":false,"zero":false},"axis":{"orient":"left","values":[70,75,80,85,90,95,100],"grid":true,"gridColor":"#ffffff","gridWidth":{"condition":{"test":"datum.value % 10 === 0","value":1.1},"value":0.5},"domain":true,"domainColor":"#000000","domainWidth":1.5,"offset":2,"ticks":true,"tickColor":"#000000","tickSize":3,"tickOpacity":{"condition":{"test":"datum.value % 10 === 0","value":1},"value":0},"labels":true,"labelExpr":"datum.value % 10 === 0 ? datum.label : ''","labelFontSize":9,"labelFontWeight":"bold","labelColor":"#000000","labelPadding":1,"labelOverlap":false,"labelFlush":false,"labelBound":false,"title":null}}},
 "layer":[{"data":{"name":"halo"},"transform":[{"filter":"datum.r === 'V1-4' && datum.c === 'V1-9'"}],"mark":{"type":"area","color":"#000000","opacity":0.35},"encoding":{"y2":{"field":"y2"}}},
  {"data":{"name":"core"},"transform":[{"filter":"datum.r === 'V1-4' && datum.c === 'V1-9'"}],"mark":{"type":"area","color":"#000000","opacity":1},"encoding":{"y2":{"field":"y2"}}},
  {"data":{"name":"pts"},"transform":[{"filter":"datum.r === 'V1-4' && datum.c === 'V1-9'"}],"mark":{"type":"circle","size":3,"color":"#000000","opacity":1}}]},
{"width":61,"height":63,"view":{"fill":"#ebebeb"},"data":{"name":"dens"},"transform":[{"filter":"datum.v === 'V1-4'"}],"mark":{"type":"line","color":"#222222","strokeWidth":0.8},
 "encoding":{"x":{"field":"x","type":"quantitative","scale":{"domain":[66.5,101.3],"nice":false,"zero":false},"axis":{"values":[70,75,80,85,90,95,100],"grid":true,"gridColor":"#ffffff","gridWidth":{"condition":{"test":"datum.value % 10 === 0","value":1.1},"value":0.5},"domain":false,"ticks":false,"labels":false,"title":null}},
  "y":{"field":"d","type":"quantitative","scale":{"domain":[0,0.14],"nice":false,"zero":false},"axis":{"values":[0,0.025,0.05,0.075,0.1,0.125],"grid":true,"gridColor":"#ffffff","gridWidth":{"condition":{"test":"round(datum.value*1000) % 50 === 0","value":1.1},"value":0.5},"domain":false,"ticks":false,"labels":false,"title":null}}}},
{"width":61,"height":63,"view":{"fill":"#ffffff"},"data":{"name":"corr"},"transform":[{"filter":"datum.r === 'V1-4' && datum.c === 'V1-3'"}],
 "encoding":{"x":{"datum":83.9,"type":"quantitative","scale":{"domain":[66.5,101.3],"nice":false,"zero":false},"axis":{"values":[70,75,80,85,90,95,100],"grid":true,"gridColor":"#e6e6e6","gridWidth":0.7,"domain":false,"ticks":false,"labels":false,"title":null}},
  "y":{"datum":85.6,"type":"quantitative","scale":{"domain":[69,102.2],"nice":false,"zero":false},"axis":{"values":[75,85,95],"grid":true,"gridColor":"#e6e6e6","gridWidth":0.7,"domain":false,"ticks":false,"labels":false,"title":null}}},
 "layer":[{"mark":{"type":"text","text":"Corr:","dy":-6,"fontSize":8.5,"color":"#8c8c8c"}},{"mark":{"type":"text","dy":6,"fontSize":8.5,"color":"#8c8c8c"},"encoding":{"text":{"field":"corr","type":"quantitative","format":".3f"}}}]},
{"width":61,"height":63,"view":{"fill":"#ffffff"},"data":{"name":"corr"},"transform":[{"filter":"datum.r === 'V1-4' && datum.c === 'V3-4'"}],
 "encoding":{"x":{"datum":83.9,"type":"quantitative","scale":{"domain":[66.5,101.3],"nice":false,"zero":false},"axis":{"values":[70,75,80,85,90,95,100],"grid":true,"gridColor":"#e6e6e6","gridWidth":0.7,"domain":false,"ticks":false,"labels":false,"title":null}},
  "y":{"datum":85.6,"type":"quantitative","scale":{"domain":[69,102.2],"nice":false,"zero":false},"axis":{"values":[75,85,95],"grid":true,"gridColor":"#e6e6e6","gridWidth":0.7,"domain":false,"ticks":false,"labels":false,"title":null}}},
 "layer":[{"mark":{"type":"text","text":"Corr:","dy":-6,"fontSize":8.5,"color":"#8c8c8c"}},{"mark":{"type":"text","dy":6,"fontSize":8.5,"color":"#8c8c8c"},"encoding":{"text":{"field":"corr","type":"quantitative","format":".3f"}}}]},
{"width":61,"height":63,"view":{"fill":"#ffffff"},"data":{"name":"corr"},"transform":[{"filter":"datum.r === 'V1-4' && datum.c === 'V4'"}],
 "encoding":{"x":{"datum":83.9,"type":"quantitative","scale":{"domain":[66.5,101.3],"nice":false,"zero":false},"axis":{"values":[70,75,80,85,90,95,100],"grid":true,"gridColor":"#e6e6e6","gridWidth":0.7,"domain":false,"ticks":false,"labels":false,"title":null}},
  "y":{"datum":85.6,"type":"quantitative","scale":{"domain":[69,102.2],"nice":false,"zero":false},"axis":{"orient":"right","values":[75,85,95],"grid":true,"gridColor":"#e6e6e6","gridWidth":0.7,"domain":true,"domainColor":"#000000","domainWidth":1.5,"offset":2,"ticks":false,"labels":false,"title":"V1-4","titleAngle":90,"titleFontSize":10,"titleFontWeight":"bold","titleColor":"#000000","titlePadding":5}}},
 "layer":[{"mark":{"type":"text","text":"Corr:","dy":-6,"fontSize":8.5,"color":"#8c8c8c"}},{"mark":{"type":"text","dy":6,"fontSize":8.5,"color":"#8c8c8c"},"encoding":{"text":{"field":"corr","type":"quantitative","format":".3f"}}}]},

{"width":61,"height":63,"view":{"fill":"#ebebeb"},
 "encoding":{"x":{"field":"x","type":"quantitative","scale":{"domain":[66.5,101.3],"nice":false,"zero":false},"axis":{"values":[70,75,80,85,90,95,100],"grid":true,"gridColor":"#ffffff","gridWidth":{"condition":{"test":"datum.value % 10 === 0","value":1.1},"value":0.5},"domain":false,"ticks":false,"labels":false,"title":null}},
  "y":{"field":"y","type":"quantitative","scale":{"domain":[69,102.2],"nice":false,"zero":false},"axis":{"orient":"left","values":[70,75,80,85,90,95,100],"grid":true,"gridColor":"#ffffff","gridWidth":{"condition":{"test":"datum.value % 10 === 0","value":1.1},"value":0.5},"domain":true,"domainColor":"#000000","domainWidth":1.5,"offset":2,"ticks":true,"tickColor":"#000000","tickSize":3,"tickOpacity":{"condition":{"test":"datum.value % 10 === 0","value":1},"value":0},"labels":false,"title":null}}},
 "layer":[{"data":{"name":"halo"},"transform":[{"filter":"datum.r === 'V1-3' && datum.c === 'V1-9'"}],"mark":{"type":"area","color":"#000000","opacity":0.35},"encoding":{"y2":{"field":"y2"}}},
  {"data":{"name":"core"},"transform":[{"filter":"datum.r === 'V1-3' && datum.c === 'V1-9'"}],"mark":{"type":"area","color":"#000000","opacity":1},"encoding":{"y2":{"field":"y2"}}},
  {"data":{"name":"pts"},"transform":[{"filter":"datum.r === 'V1-3' && datum.c === 'V1-9'"}],"mark":{"type":"circle","size":3,"color":"#000000","opacity":1}}]},
{"width":61,"height":63,"view":{"fill":"#ebebeb"},
 "encoding":{"x":{"field":"x","type":"quantitative","scale":{"domain":[66.5,101.3],"nice":false,"zero":false},"axis":{"values":[70,75,80,85,90,95,100],"grid":true,"gridColor":"#ffffff","gridWidth":{"condition":{"test":"datum.value % 10 === 0","value":1.1},"value":0.5},"domain":false,"ticks":false,"labels":false,"title":null}},
  "y":{"field":"y","type":"quantitative","scale":{"domain":[69,102.2],"nice":false,"zero":false},"axis":{"values":[70,75,80,85,90,95,100],"grid":true,"gridColor":"#ffffff","gridWidth":{"condition":{"test":"datum.value % 10 === 0","value":1.1},"value":0.5},"domain":false,"ticks":false,"labels":false,"title":null}}},
 "layer":[{"data":{"name":"halo"},"transform":[{"filter":"datum.r === 'V1-3' && datum.c === 'V1-4'"}],"mark":{"type":"area","color":"#000000","opacity":0.35},"encoding":{"y2":{"field":"y2"}}},
  {"data":{"name":"core"},"transform":[{"filter":"datum.r === 'V1-3' && datum.c === 'V1-4'"}],"mark":{"type":"area","color":"#000000","opacity":1},"encoding":{"y2":{"field":"y2"}}},
  {"data":{"name":"pts"},"transform":[{"filter":"datum.r === 'V1-3' && datum.c === 'V1-4'"}],"mark":{"type":"circle","size":3,"color":"#000000","opacity":1}}]},
{"width":61,"height":63,"view":{"fill":"#ebebeb"},"data":{"name":"dens"},"transform":[{"filter":"datum.v === 'V1-3'"}],"mark":{"type":"line","color":"#222222","strokeWidth":0.8},
 "encoding":{"x":{"field":"x","type":"quantitative","scale":{"domain":[66.5,101.3],"nice":false,"zero":false},"axis":{"values":[70,75,80,85,90,95,100],"grid":true,"gridColor":"#ffffff","gridWidth":{"condition":{"test":"datum.value % 10 === 0","value":1.1},"value":0.5},"domain":false,"ticks":false,"labels":false,"title":null}},
  "y":{"field":"d","type":"quantitative","scale":{"domain":[0,0.14],"nice":false,"zero":false},"axis":{"values":[0,0.025,0.05,0.075,0.1,0.125],"grid":true,"gridColor":"#ffffff","gridWidth":{"condition":{"test":"round(datum.value*1000) % 50 === 0","value":1.1},"value":0.5},"domain":false,"ticks":false,"labels":false,"title":null}}}},
{"width":61,"height":63,"view":{"fill":"#ffffff"},"data":{"name":"corr"},"transform":[{"filter":"datum.r === 'V1-3' && datum.c === 'V3-4'"}],
 "encoding":{"x":{"datum":83.9,"type":"quantitative","scale":{"domain":[66.5,101.3],"nice":false,"zero":false},"axis":{"values":[70,75,80,85,90,95,100],"grid":true,"gridColor":"#e6e6e6","gridWidth":0.7,"domain":false,"ticks":false,"labels":false,"title":null}},
  "y":{"datum":85.6,"type":"quantitative","scale":{"domain":[69,102.2],"nice":false,"zero":false},"axis":{"values":[75,85,95],"grid":true,"gridColor":"#e6e6e6","gridWidth":0.7,"domain":false,"ticks":false,"labels":false,"title":null}}},
 "layer":[{"mark":{"type":"text","text":"Corr:","dy":-6,"fontSize":8.5,"color":"#8c8c8c"}},{"mark":{"type":"text","dy":6,"fontSize":8.5,"color":"#8c8c8c"},"encoding":{"text":{"field":"corr","type":"quantitative","format":".3f"}}}]},
{"width":61,"height":63,"view":{"fill":"#ffffff"},"data":{"name":"corr"},"transform":[{"filter":"datum.r === 'V1-3' && datum.c === 'V4'"}],
 "encoding":{"x":{"datum":83.9,"type":"quantitative","scale":{"domain":[66.5,101.3],"nice":false,"zero":false},"axis":{"values":[70,75,80,85,90,95,100],"grid":true,"gridColor":"#e6e6e6","gridWidth":0.7,"domain":false,"ticks":false,"labels":false,"title":null}},
  "y":{"datum":85.6,"type":"quantitative","scale":{"domain":[69,102.2],"nice":false,"zero":false},"axis":{"orient":"right","values":[75,85,95],"grid":true,"gridColor":"#e6e6e6","gridWidth":0.7,"domain":true,"domainColor":"#000000","domainWidth":1.5,"offset":2,"ticks":false,"labels":false,"title":"V1-3","titleAngle":90,"titleFontSize":10,"titleFontWeight":"bold","titleColor":"#000000","titlePadding":5}}},
 "layer":[{"mark":{"type":"text","text":"Corr:","dy":-6,"fontSize":8.5,"color":"#8c8c8c"}},{"mark":{"type":"text","dy":6,"fontSize":8.5,"color":"#8c8c8c"},"encoding":{"text":{"field":"corr","type":"quantitative","format":".3f"}}}]},

{"width":61,"height":63,"view":{"fill":"#ebebeb"},
 "encoding":{"x":{"field":"x","type":"quantitative","scale":{"domain":[66.5,101.3],"nice":false,"zero":false},"axis":{"values":[70,75,80,85,90,95,100],"grid":true,"gridColor":"#ffffff","gridWidth":{"condition":{"test":"datum.value % 10 === 0","value":1.1},"value":0.5},"domain":false,"ticks":false,"labels":false,"title":null}},
  "y":{"field":"y","type":"quantitative","scale":{"domain":[69,102.2],"nice":false,"zero":false},"axis":{"orient":"left","values":[70,75,80,85,90,95,100],"grid":true,"gridColor":"#ffffff","gridWidth":{"condition":{"test":"datum.value % 10 === 0","value":1.1},"value":0.5},"domain":true,"domainColor":"#000000","domainWidth":1.5,"offset":2,"ticks":true,"tickColor":"#000000","tickSize":3,"tickOpacity":{"condition":{"test":"datum.value % 10 === 0","value":1},"value":0},"labels":false,"title":null}}},
 "layer":[{"data":{"name":"halo"},"transform":[{"filter":"datum.r === 'V3-4' && datum.c === 'V1-9'"}],"mark":{"type":"area","color":"#000000","opacity":0.35},"encoding":{"y2":{"field":"y2"}}},
  {"data":{"name":"core"},"transform":[{"filter":"datum.r === 'V3-4' && datum.c === 'V1-9'"}],"mark":{"type":"area","color":"#000000","opacity":1},"encoding":{"y2":{"field":"y2"}}},
  {"data":{"name":"pts"},"transform":[{"filter":"datum.r === 'V3-4' && datum.c === 'V1-9'"}],"mark":{"type":"circle","size":3,"color":"#000000","opacity":1}}]},
{"width":61,"height":63,"view":{"fill":"#ebebeb"},
 "encoding":{"x":{"field":"x","type":"quantitative","scale":{"domain":[66.5,101.3],"nice":false,"zero":false},"axis":{"values":[70,75,80,85,90,95,100],"grid":true,"gridColor":"#ffffff","gridWidth":{"condition":{"test":"datum.value % 10 === 0","value":1.1},"value":0.5},"domain":false,"ticks":false,"labels":false,"title":null}},
  "y":{"field":"y","type":"quantitative","scale":{"domain":[69,102.2],"nice":false,"zero":false},"axis":{"values":[70,75,80,85,90,95,100],"grid":true,"gridColor":"#ffffff","gridWidth":{"condition":{"test":"datum.value % 10 === 0","value":1.1},"value":0.5},"domain":false,"ticks":false,"labels":false,"title":null}}},
 "layer":[{"data":{"name":"halo"},"transform":[{"filter":"datum.r === 'V3-4' && datum.c === 'V1-4'"}],"mark":{"type":"area","color":"#000000","opacity":0.35},"encoding":{"y2":{"field":"y2"}}},
  {"data":{"name":"core"},"transform":[{"filter":"datum.r === 'V3-4' && datum.c === 'V1-4'"}],"mark":{"type":"area","color":"#000000","opacity":1},"encoding":{"y2":{"field":"y2"}}},
  {"data":{"name":"pts"},"transform":[{"filter":"datum.r === 'V3-4' && datum.c === 'V1-4'"}],"mark":{"type":"circle","size":3,"color":"#000000","opacity":1}}]},
{"width":61,"height":63,"view":{"fill":"#ebebeb"},
 "encoding":{"x":{"field":"x","type":"quantitative","scale":{"domain":[66.5,101.3],"nice":false,"zero":false},"axis":{"values":[70,75,80,85,90,95,100],"grid":true,"gridColor":"#ffffff","gridWidth":{"condition":{"test":"datum.value % 10 === 0","value":1.1},"value":0.5},"domain":false,"ticks":false,"labels":false,"title":null}},
  "y":{"field":"y","type":"quantitative","scale":{"domain":[69,102.2],"nice":false,"zero":false},"axis":{"values":[70,75,80,85,90,95,100],"grid":true,"gridColor":"#ffffff","gridWidth":{"condition":{"test":"datum.value % 10 === 0","value":1.1},"value":0.5},"domain":false,"ticks":false,"labels":false,"title":null}}},
 "layer":[{"data":{"name":"halo"},"transform":[{"filter":"datum.r === 'V3-4' && datum.c === 'V1-3'"}],"mark":{"type":"area","color":"#000000","opacity":0.35},"encoding":{"y2":{"field":"y2"}}},
  {"data":{"name":"core"},"transform":[{"filter":"datum.r === 'V3-4' && datum.c === 'V1-3'"}],"mark":{"type":"area","color":"#000000","opacity":1},"encoding":{"y2":{"field":"y2"}}},
  {"data":{"name":"pts"},"transform":[{"filter":"datum.r === 'V3-4' && datum.c === 'V1-3'"}],"mark":{"type":"circle","size":3,"color":"#000000","opacity":1}}]},
{"width":61,"height":63,"view":{"fill":"#ebebeb"},"data":{"name":"dens"},"transform":[{"filter":"datum.v === 'V3-4'"}],"mark":{"type":"line","color":"#222222","strokeWidth":0.8},
 "encoding":{"x":{"field":"x","type":"quantitative","scale":{"domain":[66.5,101.3],"nice":false,"zero":false},"axis":{"values":[70,75,80,85,90,95,100],"grid":true,"gridColor":"#ffffff","gridWidth":{"condition":{"test":"datum.value % 10 === 0","value":1.1},"value":0.5},"domain":false,"ticks":false,"labels":false,"title":null}},
  "y":{"field":"d","type":"quantitative","scale":{"domain":[0,0.14],"nice":false,"zero":false},"axis":{"values":[0,0.025,0.05,0.075,0.1,0.125],"grid":true,"gridColor":"#ffffff","gridWidth":{"condition":{"test":"round(datum.value*1000) % 50 === 0","value":1.1},"value":0.5},"domain":false,"ticks":false,"labels":false,"title":null}}}},
{"width":61,"height":63,"view":{"fill":"#ffffff"},"data":{"name":"corr"},"transform":[{"filter":"datum.r === 'V3-4' && datum.c === 'V4'"}],
 "encoding":{"x":{"datum":83.9,"type":"quantitative","scale":{"domain":[66.5,101.3],"nice":false,"zero":false},"axis":{"values":[70,75,80,85,90,95,100],"grid":true,"gridColor":"#e6e6e6","gridWidth":0.7,"domain":false,"ticks":false,"labels":false,"title":null}},
  "y":{"datum":85.6,"type":"quantitative","scale":{"domain":[69,102.2],"nice":false,"zero":false},"axis":{"orient":"right","values":[75,85,95],"grid":true,"gridColor":"#e6e6e6","gridWidth":0.7,"domain":true,"domainColor":"#000000","domainWidth":1.5,"offset":2,"ticks":false,"labels":false,"title":"V3-4","titleAngle":90,"titleFontSize":10,"titleFontWeight":"bold","titleColor":"#000000","titlePadding":5}}},
 "layer":[{"mark":{"type":"text","text":"Corr:","dy":-6,"fontSize":8.5,"color":"#8c8c8c"}},{"mark":{"type":"text","dy":6,"fontSize":8.5,"color":"#8c8c8c"},"encoding":{"text":{"field":"corr","type":"quantitative","format":".3f"}}}]},

{"width":61,"height":63,"view":{"fill":"#ebebeb"},
 "encoding":{"x":{"field":"x","type":"quantitative","scale":{"domain":[66.5,101.3],"nice":false,"zero":false},"axis":{"orient":"bottom","values":[70,75,80,85,90,95,100],"grid":true,"gridColor":"#ffffff","gridWidth":{"condition":{"test":"datum.value % 10 === 0","value":1.1},"value":0.5},"domain":true,"domainColor":"#000000","domainWidth":1.5,"offset":2,"ticks":true,"tickColor":"#000000","tickSize":3,"tickOpacity":{"condition":{"test":"datum.value % 10 === 0","value":1},"value":0},"labels":false,"title":null}},
  "y":{"field":"y","type":"quantitative","scale":{"domain":[69,102.2],"nice":false,"zero":false},"axis":{"orient":"left","values":[70,75,80,85,90,95,100],"grid":true,"gridColor":"#ffffff","gridWidth":{"condition":{"test":"datum.value % 10 === 0","value":1.1},"value":0.5},"domain":true,"domainColor":"#000000","domainWidth":1.5,"offset":2,"ticks":true,"tickColor":"#000000","tickSize":3,"tickOpacity":{"condition":{"test":"datum.value % 10 === 0","value":1},"value":0},"labels":false,"title":null}}},
 "layer":[{"data":{"name":"halo"},"transform":[{"filter":"datum.r === 'V4' && datum.c === 'V1-9'"}],"mark":{"type":"area","color":"#000000","opacity":0.35},"encoding":{"y2":{"field":"y2"}}},
  {"data":{"name":"core"},"transform":[{"filter":"datum.r === 'V4' && datum.c === 'V1-9'"}],"mark":{"type":"area","color":"#000000","opacity":1},"encoding":{"y2":{"field":"y2"}}},
  {"data":{"name":"pts"},"transform":[{"filter":"datum.r === 'V4' && datum.c === 'V1-9'"}],"mark":{"type":"circle","size":3,"color":"#000000","opacity":1}}]},
{"width":61,"height":63,"view":{"fill":"#ebebeb"},
 "encoding":{"x":{"field":"x","type":"quantitative","scale":{"domain":[66.5,101.3],"nice":false,"zero":false},"axis":{"orient":"bottom","values":[70,75,80,85,90,95,100],"grid":true,"gridColor":"#ffffff","gridWidth":{"condition":{"test":"datum.value % 10 === 0","value":1.1},"value":0.5},"domain":true,"domainColor":"#000000","domainWidth":1.5,"offset":2,"ticks":true,"tickColor":"#000000","tickSize":3,"tickOpacity":{"condition":{"test":"datum.value % 10 === 0","value":1},"value":0},"labels":false,"title":null}},
  "y":{"field":"y","type":"quantitative","scale":{"domain":[69,102.2],"nice":false,"zero":false},"axis":{"values":[70,75,80,85,90,95,100],"grid":true,"gridColor":"#ffffff","gridWidth":{"condition":{"test":"datum.value % 10 === 0","value":1.1},"value":0.5},"domain":false,"ticks":false,"labels":false,"title":null}}},
 "layer":[{"data":{"name":"halo"},"transform":[{"filter":"datum.r === 'V4' && datum.c === 'V1-4'"}],"mark":{"type":"area","color":"#000000","opacity":0.35},"encoding":{"y2":{"field":"y2"}}},
  {"data":{"name":"core"},"transform":[{"filter":"datum.r === 'V4' && datum.c === 'V1-4'"}],"mark":{"type":"area","color":"#000000","opacity":1},"encoding":{"y2":{"field":"y2"}}},
  {"data":{"name":"pts"},"transform":[{"filter":"datum.r === 'V4' && datum.c === 'V1-4'"}],"mark":{"type":"circle","size":3,"color":"#000000","opacity":1}}]},
{"width":61,"height":63,"view":{"fill":"#ebebeb"},
 "encoding":{"x":{"field":"x","type":"quantitative","scale":{"domain":[66.5,101.3],"nice":false,"zero":false},"axis":{"orient":"bottom","values":[70,75,80,85,90,95,100],"grid":true,"gridColor":"#ffffff","gridWidth":{"condition":{"test":"datum.value % 10 === 0","value":1.1},"value":0.5},"domain":true,"domainColor":"#000000","domainWidth":1.5,"offset":2,"ticks":true,"tickColor":"#000000","tickSize":3,"tickOpacity":{"condition":{"test":"datum.value % 10 === 0","value":1},"value":0},"labels":false,"title":null}},
  "y":{"field":"y","type":"quantitative","scale":{"domain":[69,102.2],"nice":false,"zero":false},"axis":{"values":[70,75,80,85,90,95,100],"grid":true,"gridColor":"#ffffff","gridWidth":{"condition":{"test":"datum.value % 10 === 0","value":1.1},"value":0.5},"domain":false,"ticks":false,"labels":false,"title":null}}},
 "layer":[{"data":{"name":"halo"},"transform":[{"filter":"datum.r === 'V4' && datum.c === 'V1-3'"}],"mark":{"type":"area","color":"#000000","opacity":0.35},"encoding":{"y2":{"field":"y2"}}},
  {"data":{"name":"core"},"transform":[{"filter":"datum.r === 'V4' && datum.c === 'V1-3'"}],"mark":{"type":"area","color":"#000000","opacity":1},"encoding":{"y2":{"field":"y2"}}},
  {"data":{"name":"pts"},"transform":[{"filter":"datum.r === 'V4' && datum.c === 'V1-3'"}],"mark":{"type":"circle","size":3,"color":"#000000","opacity":1}}]},
{"width":61,"height":63,"view":{"fill":"#ebebeb"},
 "encoding":{"x":{"field":"x","type":"quantitative","scale":{"domain":[66.5,101.3],"nice":false,"zero":false},"axis":{"orient":"bottom","values":[70,75,80,85,90,95,100],"grid":true,"gridColor":"#ffffff","gridWidth":{"condition":{"test":"datum.value % 10 === 0","value":1.1},"value":0.5},"domain":true,"domainColor":"#000000","domainWidth":1.5,"offset":2,"ticks":true,"tickColor":"#000000","tickSize":3,"tickOpacity":{"condition":{"test":"datum.value % 10 === 0","value":1},"value":0},"labels":true,"labelExpr":"datum.value % 10 === 0 ? datum.label : ''","labelFontSize":9,"labelFontWeight":"bold","labelColor":"#000000","labelPadding":1,"labelOverlap":false,"labelFlush":false,"labelBound":false,"title":null}},
  "y":{"field":"y","type":"quantitative","scale":{"domain":[69,102.2],"nice":false,"zero":false},"axis":{"values":[70,75,80,85,90,95,100],"grid":true,"gridColor":"#ffffff","gridWidth":{"condition":{"test":"datum.value % 10 === 0","value":1.1},"value":0.5},"domain":false,"ticks":false,"labels":false,"title":null}}},
 "layer":[{"data":{"name":"halo"},"transform":[{"filter":"datum.r === 'V4' && datum.c === 'V3-4'"}],"mark":{"type":"area","color":"#000000","opacity":0.35},"encoding":{"y2":{"field":"y2"}}},
  {"data":{"name":"core"},"transform":[{"filter":"datum.r === 'V4' && datum.c === 'V3-4'"}],"mark":{"type":"area","color":"#000000","opacity":1},"encoding":{"y2":{"field":"y2"}}},
  {"data":{"name":"pts"},"transform":[{"filter":"datum.r === 'V4' && datum.c === 'V3-4'"}],"mark":{"type":"circle","size":3,"color":"#000000","opacity":1}}]},
{"width":61,"height":63,"view":{"fill":"#ebebeb"},"data":{"name":"dens"},"transform":[{"filter":"datum.v === 'V4'"}],"mark":{"type":"line","color":"#222222","strokeWidth":0.8},
 "encoding":{"x":{"field":"x","type":"quantitative","scale":{"domain":[66.5,101.3],"nice":false,"zero":false},"axis":{"orient":"bottom","values":[70,75,80,85,90,95,100],"grid":true,"gridColor":"#ffffff","gridWidth":{"condition":{"test":"datum.value % 10 === 0","value":1.1},"value":0.5},"domain":true,"domainColor":"#000000","domainWidth":1.5,"offset":2,"ticks":true,"tickColor":"#000000","tickSize":3,"tickOpacity":{"condition":{"test":"datum.value % 10 === 0","value":1},"value":0},"labels":true,"labelExpr":"datum.value % 10 === 0 ? datum.label : ''","labelFontSize":9,"labelFontWeight":"bold","labelColor":"#000000","labelPadding":1,"labelOverlap":false,"labelFlush":false,"labelBound":false,"title":null}},
  "y":{"field":"d","type":"quantitative","scale":{"domain":[0,0.14],"nice":false,"zero":false},"axis":{"orient":"right","values":[0,0.025,0.05,0.075,0.1,0.125],"grid":true,"gridColor":"#ffffff","gridWidth":{"condition":{"test":"round(datum.value*1000) % 50 === 0","value":1.1},"value":0.5},"domain":true,"domainColor":"#000000","domainWidth":1.5,"offset":2,"ticks":false,"labels":false,"title":"V4","titleAngle":90,"titleFontSize":10,"titleFontWeight":"bold","titleColor":"#000000","titlePadding":5}}}}
]
},
{
"vconcat":[
{"title":{"text":"b","anchor":"start","fontSize":13,"fontWeight":"bold","offset":0,"dy":0},
 "width":264,"height":140,
 "data":{"name":"pr"},
 "mark":{"type":"circle","size":13,"opacity":1},
 "encoding":{
  "x":{"field":"precision","type":"quantitative","scale":{"domain":[0.4,0.8],"nice":false,"zero":false},"axis":{"values":[0.4,0.5,0.6,0.7,0.8],"format":".1f","grid":true,"gridColor":"#d9d9d9","domainColor":"#595959","tickColor":"#595959","tickSize":4,"labelFontSize":10,"labelFontWeight":"bold","labelColor":"#000000","labelPadding":2,"labelFlush":false,"title":"Precision","titleFontSize":13,"titleFontWeight":"bold","titleColor":"#000000","titlePadding":4}},
  "y":{"field":"recall","type":"quantitative","scale":{"domain":[0.9,0.95],"nice":false,"zero":false},"axis":{"values":[0.9,0.91,0.92,0.93,0.94,0.95],"format":"~g","grid":true,"gridColor":"#d9d9d9","domainColor":"#595959","tickColor":"#595959","tickSize":4,"labelFontSize":10,"labelFontWeight":"bold","labelColor":"#000000","labelPadding":2,"labelFlush":false,"title":"Recall","titleFontSize":13,"titleFontWeight":"bold","titleColor":"#000000","titlePadding":6}},
  "color":{"field":"platform","type":"nominal","sort":null,"scale":{"domain":["MiSeq V1-3","MiSeq V3-4","MiSeq V4","GS FLX+","PacBio"],"range":["#0b57a3","#5b9bd5","#a3c9e8","#ff1a1a","#33b833"]},"legend":null}}},
{"title":{"text":"c","anchor":"start","fontSize":13,"fontWeight":"bold","offset":0},
 "width":258,"height":161,
 "data":{"name":"box"},
 "layer":[
  {"encoding":{"x":{"field":"id","type":"nominal","sort":null,"scale":{"paddingInner":0,"paddingOuter":0},"axis":{"title":"Indel","titleAngle":0,"titleX":-4,"titleY":13,"titleAlign":"right","titleBaseline":"middle","titleFontSize":12,"titleFontWeight":"bold","titleColor":"#000000","labelExpr":"slice(datum.label, -1)","labelAngle":0,"labelFontSize":13,"labelFontWeight":"bold","labelColor":"#000000","labelPadding":1,"tickSize":4,"tickColor":"#000000","domainColor":"#000000","domainWidth":1.5,"grid":false}}},
   "layer":[
    {"mark":{"type":"rule","strokeWidth":2},"encoding":{"y":{"field":"lower","type":"quantitative","title":"Similarity (%)","scale":{"domain":[78.1,101.9],"nice":false,"zero":false},"axis":{"values":[80,85,90,95,100],"title":"Similarity (%)","titleFontSize":13,"titleFontWeight":"bold","titleColor":"#000000","titlePadding":6,"labelFontSize":10,"labelFontWeight":"bold","labelColor":"#000000","labelPadding":2,"tickSize":4,"tickColor":"#000000","domainColor":"#000000","domainWidth":1.5,"grid":false}},"y2":{"field":"upper"},"color":{"field":"family","type":"nominal","scale":{"domain":["GS FLX+","MiSeq","PacBio"],"range":["#ff2a2a","#2a2aff","#2ac02a"]},"legend":null}}},
    {"mark":{"type":"bar","strokeWidth":2,"opacity":1,"width":{"band":0.78}},"encoding":{"y":{"field":"q1","type":"quantitative","title":"Similarity (%)"},"y2":{"field":"q3"},"fill":{"field":"shade","type":"nominal","scale":{"domain":["none","GS FLX+","MiSeq","PacBio"],"range":["#ffffff","#ffb0b0","#bfcdff","#c4eec4"]},"legend":null},"stroke":{"field":"family","type":"nominal","scale":{"domain":["GS FLX+","MiSeq","PacBio"],"range":["#ff2a2a","#2a2aff","#2ac02a"]},"legend":null}}},
    {"mark":{"type":"tick","thickness":2,"size":17,"opacity":1},"encoding":{"y":{"field":"median","type":"quantitative","title":"Similarity (%)"},"color":{"field":"family","type":"nominal","scale":{"domain":["GS FLX+","MiSeq","PacBio"],"range":["#ff2a2a","#2a2aff","#2ac02a"]},"legend":null}}},
    {"mark":{"type":"tick","thickness":2,"size":8,"opacity":1},"encoding":{"y":{"field":"lower","type":"quantitative","title":"Similarity (%)"},"color":{"field":"family","type":"nominal","scale":{"domain":["GS FLX+","MiSeq","PacBio"],"range":["#ff2a2a","#2a2aff","#2ac02a"]},"legend":null}}},
    {"mark":{"type":"tick","thickness":2,"size":8,"opacity":1},"encoding":{"y":{"field":"upper","type":"quantitative","title":"Similarity (%)"},"color":{"field":"family","type":"nominal","scale":{"domain":["GS FLX+","MiSeq","PacBio"],"range":["#ff2a2a","#2a2aff","#2ac02a"]},"legend":null}}}
   ]},
  {"mark":{"type":"point","opacity":0},"encoding":{"x":{"field":"grp","type":"nominal","sort":null,"scale":{"paddingInner":0,"paddingOuter":0},"axis":{"orient":"bottom","title":null,"domain":false,"ticks":false,"labelExpr":"split(datum.label, ' ')","labelAngle":0,"labelFontSize":10.5,"labelFontWeight":"bold","labelColor":"#000000","labelPadding":0,"labelLineHeight":11,"offset":20}}}}
 ],
 "resolve":{"scale":{"x":"independent"},"axis":{"x":"independent"}}}
],
"spacing":53,"bounds":"flush"
}
]
}
